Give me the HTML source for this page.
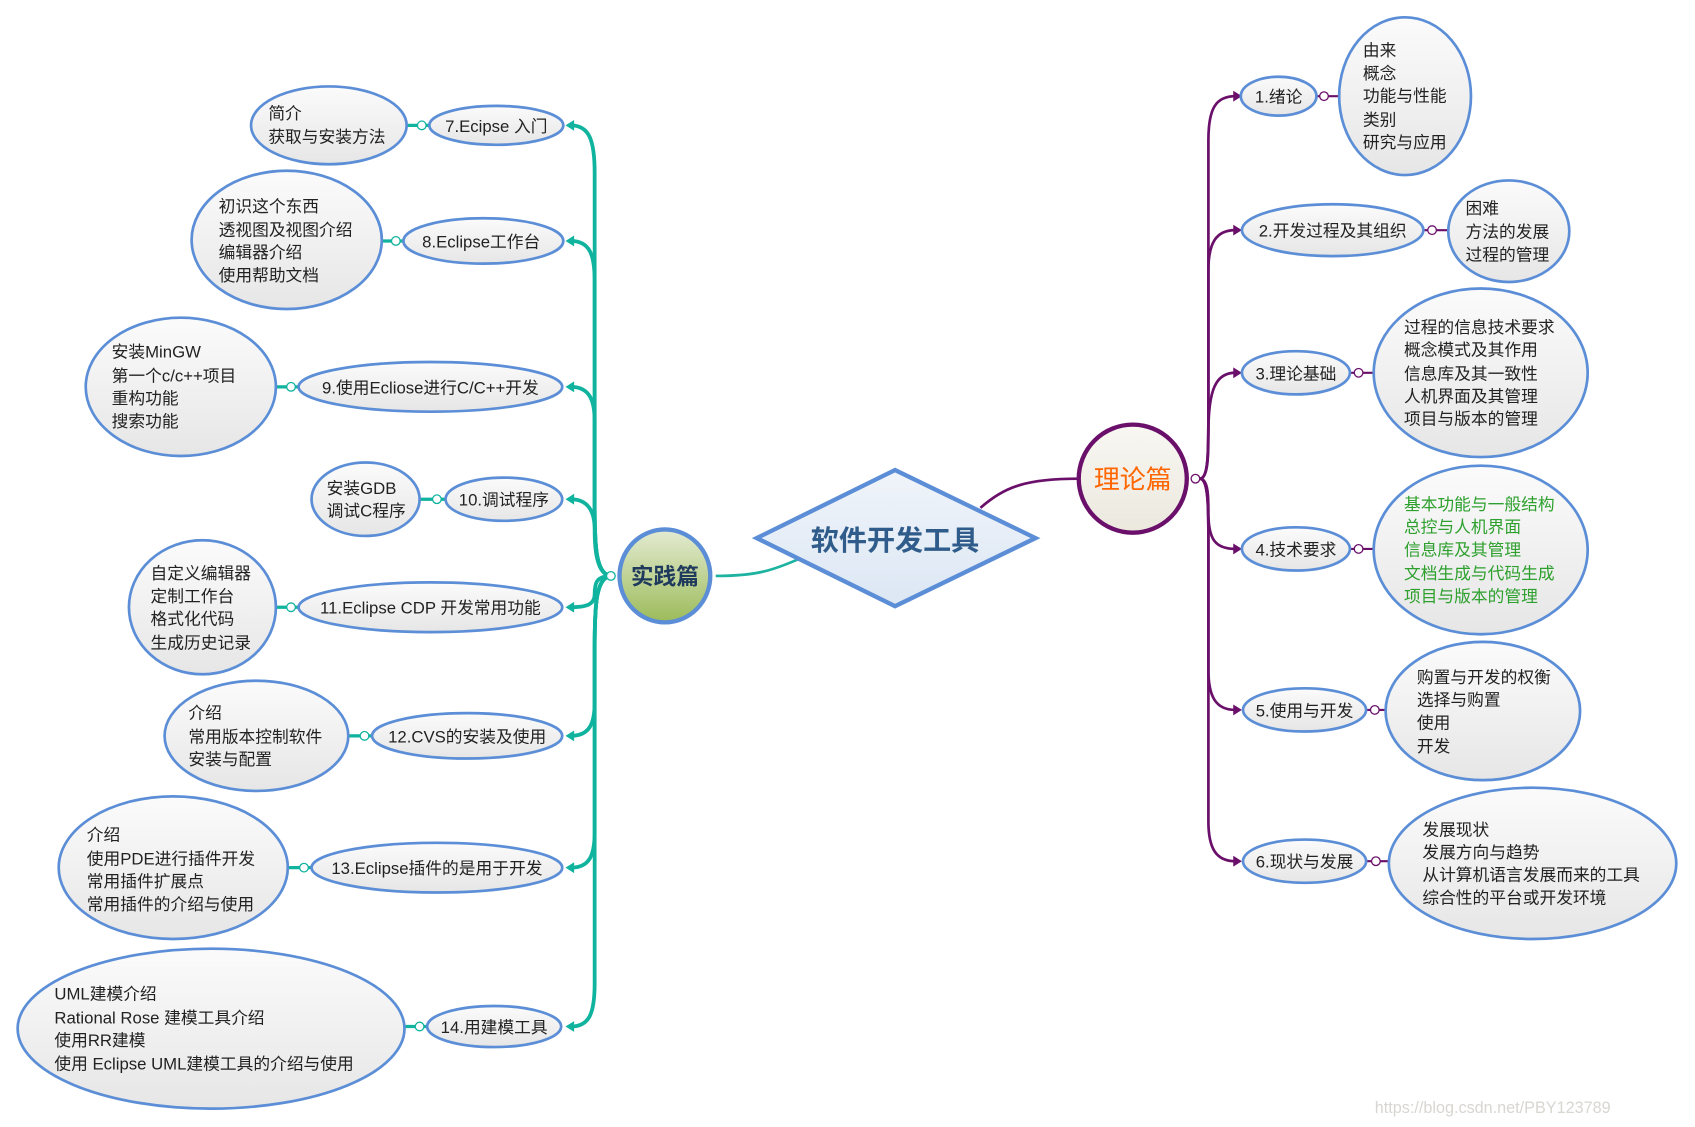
<!DOCTYPE html>
<html><head><meta charset="utf-8"><style>
html,body{margin:0;padding:0;background:#fff}
svg{display:block}
text{font-family:"Liberation Sans","Noto Sans CJK SC",sans-serif}
</style></head><body>
<svg width="1695" height="1127" viewBox="0 0 1568 1043" xmlns="http://www.w3.org/2000/svg">
<defs>
<linearGradient id="g" x1="0" y1="0" x2="0" y2="1"><stop offset="0" stop-color="#fbfbfb"/><stop offset="1" stop-color="#e6e6e6"/></linearGradient>
<linearGradient id="gd" x1="0" y1="0" x2="0" y2="1"><stop offset="0" stop-color="#f0f4fa"/><stop offset="1" stop-color="#dce7f4"/></linearGradient>
<linearGradient id="gg" x1="0" y1="0" x2="0" y2="1"><stop offset="0" stop-color="#e4ebd2"/><stop offset="1" stop-color="#9cbb5a"/></linearGradient>
<linearGradient id="gp" x1="0" y1="0" x2="0" y2="1"><stop offset="0" stop-color="#f8f7f2"/><stop offset="1" stop-color="#ebe8de"/></linearGradient>
</defs>

<!-- main connectors -->
<path d="M662,533 C700,533 715,528 742,516" stroke="#1db3a0" stroke-width="2.5" fill="none"/>
<path d="M907,470 C930,450 950,443 998,443" stroke="#6a0f6a" stroke-width="2.5" fill="none"/>

<!-- left trunk -->
<g stroke="#0fb39e" stroke-width="3.5" fill="none">
<path d="M566,533 C551,533 550,505 550,470 L550,160 C550,130 545,116 528,116"/>
<path d="M566,533 C551,533 550,505 550,470 L550,260 C550,235 545,223 528,223"/>
<path d="M566,533 C551,533 550,505 550,470 L550,390 C550,370 545,358 528,358"/>
<path d="M566,533 C551,533 550,505 550,490 C550,475 545,462 528,462"/>
<path d="M566,533 C551,533 550,540 550,550 C550,558 545,562 528,562"/>
<path d="M566,533 C551,533 550,560 550,600 L550,650 C550,670 545,681 528,681"/>
<path d="M566,533 C551,533 550,560 550,600 L550,770 C550,792 545,803 528,803"/>
<path d="M566,533 C551,533 550,560 550,600 L550,910 C550,938 545,950 528,950"/>
</g>
<g fill="#0fb39e">
<path d="M523,116 l8,-5 v10z"/><path d="M523,223 l8,-5 v10z"/><path d="M523,358 l8,-5 v10z"/><path d="M523,462 l8,-5 v10z"/>
<path d="M523,562 l8,-5 v10z"/><path d="M523,681 l8,-5 v10z"/><path d="M523,803 l8,-5 v10z"/><path d="M523,950 l8,-5 v10z"/>
</g>
<circle cx="565" cy="533" r="4" fill="#fff" stroke="#0fb39e" stroke-width="1.2"/>

<!-- right trunk -->
<g stroke="#6a0f6a" stroke-width="2.5" fill="none">
<path d="M1110,443 C1118,443 1118,420 1118,380 L1118,130 C1118,100 1125,89 1143,89"/>
<path d="M1110,443 C1118,443 1118,420 1118,380 L1118,250 C1118,225 1125,213 1143,213"/>
<path d="M1110,443 C1118,443 1118,420 1118,400 C1118,360 1125,345 1143,345"/>
<path d="M1110,443 C1118,443 1118,460 1118,475 C1118,500 1125,508 1143,508"/>
<path d="M1110,443 C1118,443 1118,470 1118,500 L1118,620 C1118,645 1125,657 1143,657"/>
<path d="M1110,443 C1118,443 1118,470 1118,500 L1118,760 C1118,785 1125,797 1143,797"/>
</g>
<g fill="#6a0f6a">
<path d="M1149,89 l-8,-5 v10z"/><path d="M1149,213 l-8,-5 v10z"/><path d="M1149,345 l-8,-5 v10z"/>
<path d="M1149,508 l-8,-5 v10z"/><path d="M1149,657 l-8,-5 v10z"/><path d="M1149,797 l-8,-5 v10z"/>
</g>
<circle cx="1106" cy="443" r="4" fill="#fff" stroke="#6a0f6a" stroke-width="1.2"/>

<!-- left child links -->
<g stroke="#0fb39e" stroke-width="3">
<line x1="376" y1="116" x2="397" y2="116"/><line x1="353" y1="223" x2="373" y2="223"/>
<line x1="255" y1="358" x2="276" y2="358"/><line x1="388" y1="462" x2="412" y2="462"/>
<line x1="255" y1="562" x2="276" y2="562"/><line x1="322" y1="681" x2="344" y2="681"/>
<line x1="266" y1="803" x2="288" y2="803"/><line x1="375" y1="950" x2="395" y2="950"/>
</g>
<g fill="#fff" stroke="#0fb39e" stroke-width="1.2">
<circle cx="390" cy="116" r="4"/><circle cx="366" cy="223" r="4"/><circle cx="269" cy="358" r="4"/><circle cx="404" cy="462" r="4"/>
<circle cx="269" cy="562" r="4"/><circle cx="337" cy="681" r="4"/><circle cx="281" cy="803" r="4"/><circle cx="388" cy="950" r="4"/>
</g>
<!-- right child links -->
<g stroke="#6a0f6a" stroke-width="2">
<line x1="1218" y1="89" x2="1240" y2="89"/><line x1="1317" y1="213" x2="1340" y2="213"/>
<line x1="1249" y1="345" x2="1271" y2="345"/><line x1="1249" y1="508" x2="1271" y2="508"/>
<line x1="1264" y1="657" x2="1282" y2="657"/><line x1="1264" y1="797" x2="1285" y2="797"/>
</g>
<g fill="#fff" stroke="#6a0f6a" stroke-width="1.2">
<circle cx="1225" cy="89" r="4"/><circle cx="1325" cy="213" r="4"/><circle cx="1257" cy="345" r="4"/>
<circle cx="1257" cy="508" r="4"/><circle cx="1272" cy="657" r="4"/><circle cx="1273" cy="797" r="4"/>
</g>

<!-- ellipses -->
<g fill="url(#g)" stroke="#5b8ed6" stroke-width="2.5">
<ellipse cx="459" cy="116" rx="62" ry="18"/><ellipse cx="304" cy="116" rx="72" ry="36"/>
<ellipse cx="447" cy="223" rx="74" ry="21"/><ellipse cx="265" cy="222" rx="88" ry="64"/>
<ellipse cx="398" cy="358" rx="122" ry="23"/><ellipse cx="167" cy="358" rx="88" ry="64"/>
<ellipse cx="466" cy="462" rx="54" ry="20"/><ellipse cx="338" cy="462" rx="50" ry="34"/>
<ellipse cx="398" cy="562" rx="122" ry="23"/><ellipse cx="187" cy="562" rx="68" ry="62"/>
<ellipse cx="432" cy="681" rx="88" ry="21"/><ellipse cx="237" cy="681" rx="85" ry="51"/>
<ellipse cx="404" cy="803" rx="116" ry="23"/><ellipse cx="160" cy="803" rx="106" ry="66"/>
<ellipse cx="457" cy="950" rx="62" ry="19"/><ellipse cx="195" cy="952" rx="179" ry="74"/>
<ellipse cx="1183" cy="89" rx="35" ry="18"/><ellipse cx="1300" cy="89" rx="61" ry="73"/>
<ellipse cx="1233" cy="213" rx="84" ry="24"/><ellipse cx="1396" cy="214" rx="56" ry="47"/>
<ellipse cx="1199" cy="345" rx="50" ry="20"/><ellipse cx="1370" cy="345" rx="99" ry="78"/>
<ellipse cx="1199" cy="508" rx="50" ry="20"/><ellipse cx="1370" cy="509" rx="99" ry="78"/>
<ellipse cx="1207" cy="657" rx="57" ry="20"/><ellipse cx="1372" cy="658" rx="90" ry="64"/>
<ellipse cx="1207" cy="797" rx="57" ry="20"/><ellipse cx="1418" cy="799" rx="133" ry="70"/>
</g>

<!-- center -->
<path d="M700,498 L828,435 L958,498 L828,561 Z" fill="url(#gd)" stroke="#5b8ed6" stroke-width="4"/>
<text x="828" y="509" text-anchor="middle" font-size="26" font-weight="bold" fill="#2f5c8a">软件开发工具</text>
<ellipse cx="615" cy="533" rx="42" ry="43" fill="url(#gg)" stroke="#5b8ed6" stroke-width="4"/>
<text x="615" y="541" text-anchor="middle" font-size="21" font-weight="bold" fill="#1f3a5c">实践篇</text>
<ellipse cx="1048" cy="443" rx="50" ry="50" fill="url(#gp)" stroke="#6a0f6a" stroke-width="4"/>
<text x="1048" y="452" text-anchor="middle" font-size="24" fill="#ff6600">理论篇</text>

<!-- node labels -->
<g font-size="15.5" fill="#222" text-anchor="middle">
<text x="459" y="122">7.Ecipse 入门</text>
<text x="445" y="229">8.Eclipse工作台</text>
<text x="398" y="364">9.使用Ecliose进行C/C++开发</text>
<text x="466" y="468">10.调试程序</text>
<text x="398" y="568">11.Eclipse CDP 开发常用功能</text>
<text x="432" y="687">12.CVS的安装及使用</text>
<text x="404" y="809">13.Eclipse插件的是用于开发</text>
<text x="457" y="956">14.用建模工具</text>
<text x="1183" y="95">1.绪论</text>
<text x="1233" y="219">2.开发过程及其组织</text>
<text x="1199" y="351">3.理论基础</text>
<text x="1199" y="514">4.技术要求</text>
<text x="1207" y="663">5.使用与开发</text>
<text x="1207" y="803">6.现状与发展</text>
</g>
<!-- child texts -->
<g font-size="15.5" fill="#222">
<text x="248" y="110">简介</text><text x="248" y="132">获取与安装方法</text>
<text x="202" y="196">初识这个东西</text><text x="202" y="218">透视图及视图介绍</text><text x="202" y="239">编辑器介绍</text><text x="202" y="260">使用帮助文档</text>
<text x="103" y="331">安装MinGW</text><text x="103" y="353">第一个c/c++项目</text><text x="103" y="374">重构功能</text><text x="103" y="395">搜索功能</text>
<text x="302" y="457">安装GDB</text><text x="302" y="478">调试C程序</text>
<text x="139" y="536">自定义编辑器</text><text x="139" y="557">定制工作台</text><text x="139" y="578">格式化代码</text><text x="139" y="600">生成历史记录</text>
<text x="174" y="665">介绍</text><text x="174" y="687">常用版本控制软件</text><text x="174" y="708">安装与配置</text>
<text x="80" y="778">介绍</text><text x="80" y="800">使用PDE进行插件开发</text><text x="80" y="821">常用插件扩展点</text><text x="80" y="842">常用插件的介绍与使用</text>
<text x="50" y="925">UML建模介绍</text><text x="50" y="947">Rational Rose 建模工具介绍</text><text x="50" y="968">使用RR建模</text><text x="50" y="990">使用 Eclipse UML建模工具的介绍与使用</text>
<text x="1261" y="52">由来</text><text x="1261" y="73">概念</text><text x="1261" y="94">功能与性能</text><text x="1261" y="116">类别</text><text x="1261" y="137">研究与应用</text>
<text x="1356" y="198">困难</text><text x="1356" y="220">方法的发展</text><text x="1356" y="241">过程的管理</text>
<text x="1299" y="308">过程的信息技术要求</text><text x="1299" y="329">概念模式及其作用</text><text x="1299" y="351">信息库及其一致性</text><text x="1299" y="372">人机界面及其管理</text><text x="1299" y="393">项目与版本的管理</text>
<text x="1311" y="632">购置与开发的权衡</text><text x="1311" y="653">选择与购置</text><text x="1311" y="674">使用</text><text x="1311" y="696">开发</text>
<text x="1316" y="773">发展现状</text><text x="1316" y="794">发展方向与趋势</text><text x="1316" y="815">从计算机语言发展而来的工具</text><text x="1316" y="836">综合性的平台或开发环境</text>
</g>
<g font-size="15.5" fill="#2ea02e">
<text x="1299" y="472">基本功能与一般结构</text><text x="1299" y="493">总控与人机界面</text><text x="1299" y="514">信息库及其管理</text><text x="1299" y="536">文档生成与代码生成</text><text x="1299" y="557">项目与版本的管理</text>
</g>
<text x="1272" y="1030" font-size="15" fill="#d8d6d0" font-family="Liberation Serif,serif">https://blog.csdn.net/PBY123789</text>
</svg>
</body></html>
